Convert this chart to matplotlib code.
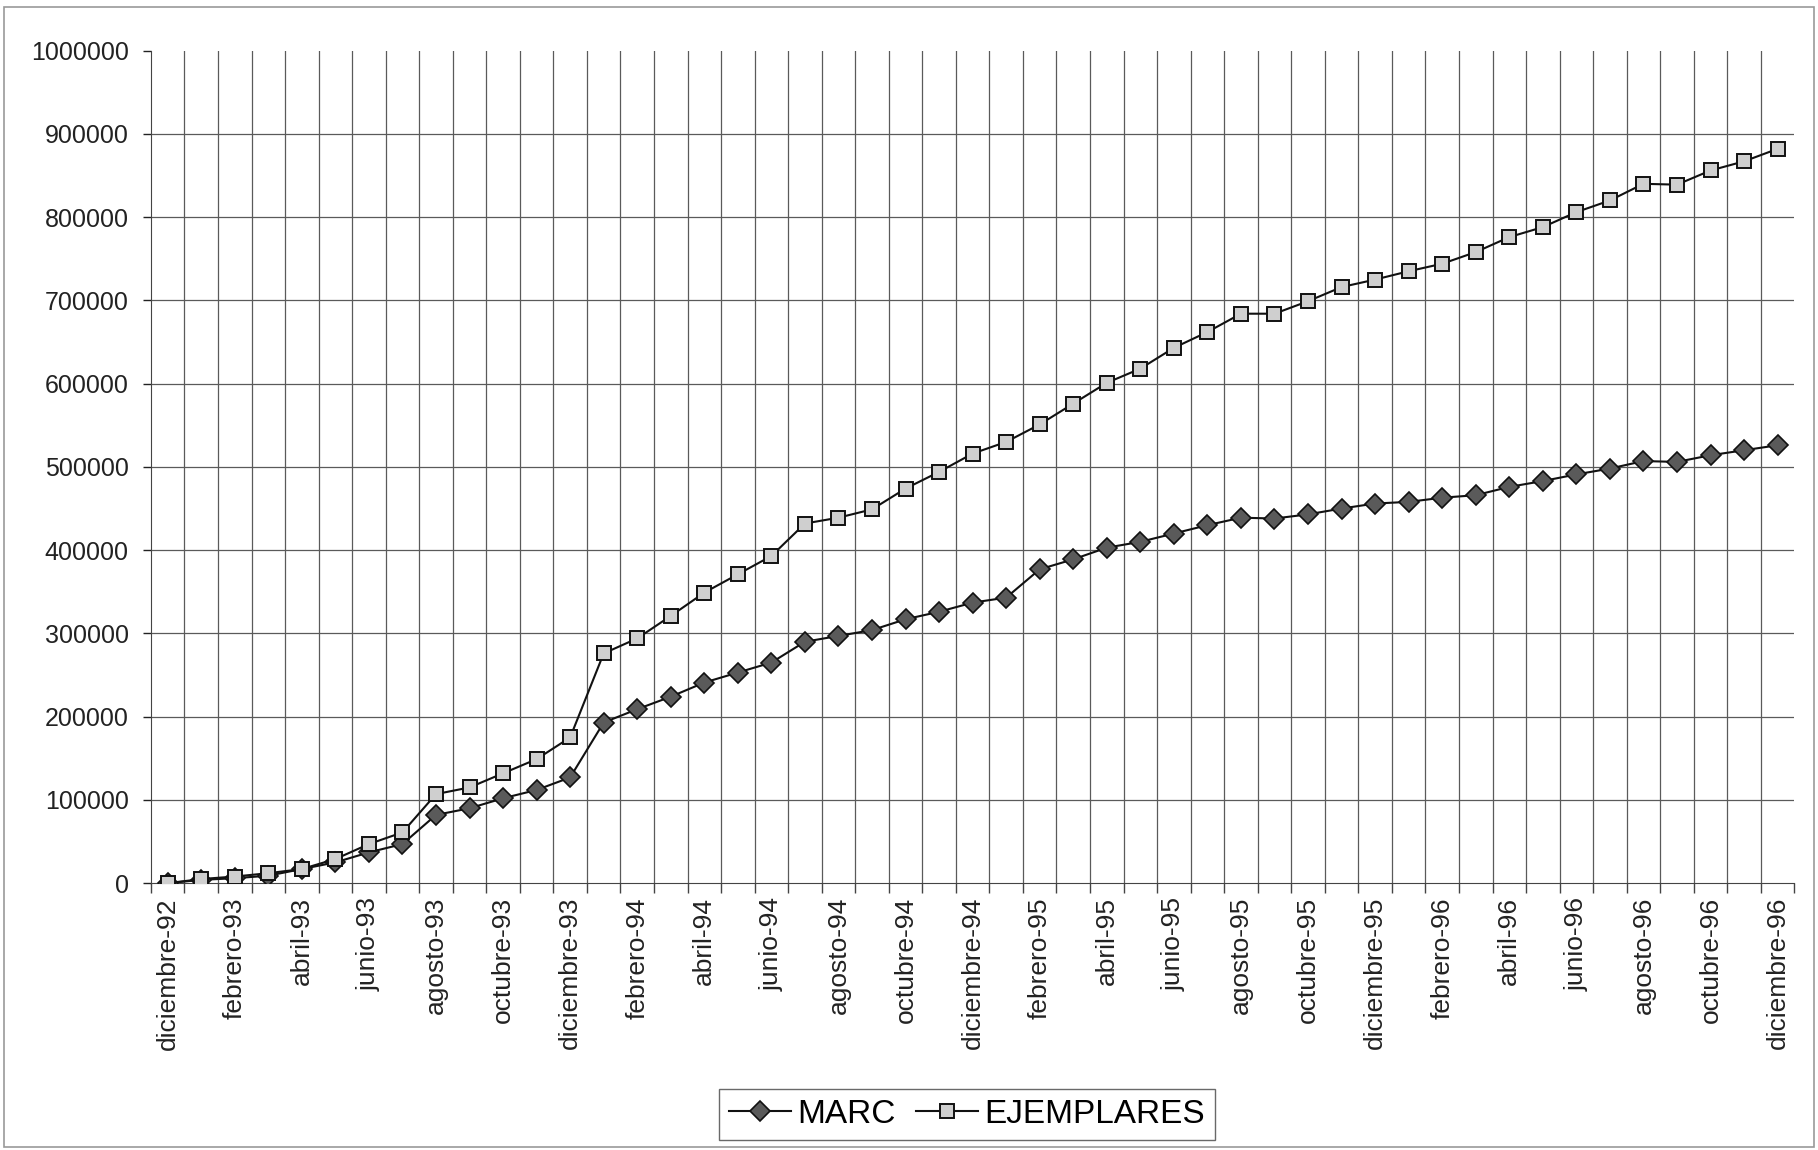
import matplotlib
matplotlib.use("Agg")
import matplotlib.pyplot as plt
from matplotlib.patches import Rectangle
from matplotlib.ticker import FixedLocator, FuncFormatter

plt.rcParams['font.family'] = ['Liberation Sans', 'DejaVu Sans']

# meses de diciembre-92 a diciembre-96
meses = ['enero', 'febrero', 'marzo', 'abril', 'mayo', 'junio', 'julio',
         'agosto', 'septiembre', 'octubre', 'noviembre', 'diciembre']
categorias = ['diciembre-92'] + [f'{m}-{a}' for a in ('93', '94', '95', '96') for m in meses]

marc = [0, 4000, 6000, 9000, 17000, 25000, 37000, 47000, 82000, 90000, 102000, 112000,
        127000, 193000, 209000, 224000, 241000, 253000, 265000, 290000, 297000, 304000,
        317000, 326000, 337000, 343000, 377000, 389000, 403000, 410000, 420000, 430000,
        439000, 438000, 443000, 450000, 456000, 458000, 463000, 466000, 476000, 483000,
        491000, 498000, 507000, 506000, 514000, 520000, 526000]

ejemplares = [0, 5000, 8000, 12000, 17000, 29000, 47000, 61000, 107000, 115000, 132000,
              149000, 175000, 276000, 294000, 321000, 349000, 371000, 393000, 432000,
              439000, 449000, 474000, 494000, 516000, 530000, 551000, 576000, 601000,
              618000, 643000, 662000, 684000, 684000, 699000, 716000, 725000, 735000,
              744000, 758000, 776000, 788000, 806000, 820000, 840000, 839000, 856000,
              867000, 882000]

x = list(range(len(categorias)))

fig = plt.figure(figsize=(18.18, 11.5), dpi=100)
ax = fig.add_axes([0.083, 0.232, 0.904, 0.724])

ax.plot(x, marc, color='#111111', lw=1.5, marker='D', ms=10.5,
        mfc='#5a5a5a', mec='#111111', mew=1.2, label='MARC', zorder=3)
ax.plot(x, ejemplares, color='#111111', lw=1.5, marker='s', ms=10,
        mfc='#cfcfcf', mec='#111111', mew=1.4, label='EJEMPLARES', zorder=3)

# rejilla: horizontales cada 100000, verticales entre categorias
for v in range(100000, 1000000, 100000):
    ax.axhline(v, color='#5a5a5a', lw=0.9, zorder=1)
for b in range(len(categorias) - 1):
    ax.axvline(b + 0.5, color='#5a5a5a', lw=0.9, zorder=1)

ax.set_xlim(-0.5, len(categorias) - 0.5)
ax.set_ylim(0, 1000000)

ax.set_yticks(range(0, 1000001, 100000))
ax.yaxis.set_major_formatter(FuncFormatter(lambda v, p: f'{int(v)}'))
ax.tick_params(axis='y', length=6, width=1, pad=10, labelsize=18, colors='#222222')

ax.set_xticks(x[::2])
ax.set_xticklabels(categorias[::2], rotation=90, va='top', ha='center')
ax.xaxis.set_minor_locator(FixedLocator([i - 0.5 for i in range(len(categorias) + 1)]))
ax.tick_params(axis='x', which='major', length=0, pad=10, labelsize=19, colors='#222222')
ax.tick_params(axis='x', which='minor', length=7, width=1, color='#444444')

for s in ('top', 'right'):
    ax.spines[s].set_visible(False)
ax.spines['left'].set_color('#444444')
ax.spines['bottom'].set_color('#444444')

leg = fig.legend(loc='center', bbox_to_anchor=(0.532, 0.031), ncol=2, fontsize=24,
                 frameon=True, fancybox=False, edgecolor='#444444', handlelength=1.85,
                 handletextpad=0.2, columnspacing=0.6, borderpad=0.3)
leg.get_frame().set_linewidth(1.0)

# marco del grafico
fig.patches.append(Rectangle((0.002, 0.003), 0.996, 0.991, transform=fig.transFigure,
                             fill=False, edgecolor='#999999', lw=1.2))

fig.savefig('out.png', dpi=100)
